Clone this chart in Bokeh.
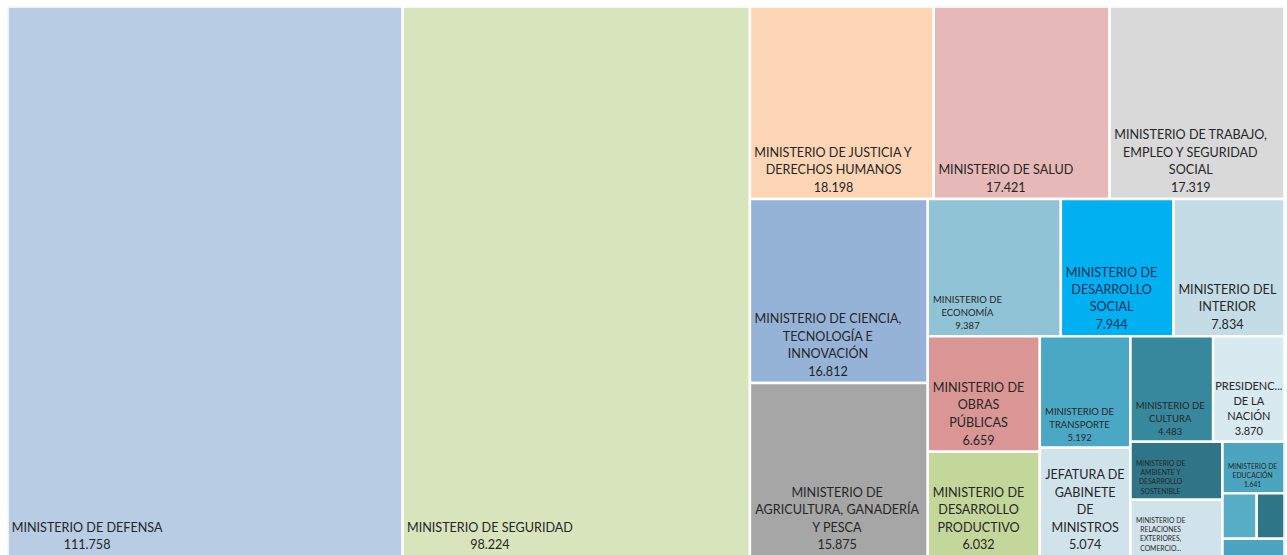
from bokeh.plotting import figure
from bokeh.models import ColumnDataSource, Range1d
from bokeh.core.properties import value
from bokeh.embed import file_html
from bokeh.resources import INLINE

# ---------------- data ----------------
organismos = [
    "MINISTERIO DE DEFENSA",
    "MINISTERIO DE SEGURIDAD",
    "MINISTERIO DE JUSTICIA Y DERECHOS HUMANOS",
    "MINISTERIO DE SALUD",
    "MINISTERIO DE TRABAJO, EMPLEO Y SEGURIDAD SOCIAL",
    "MINISTERIO DE CIENCIA, TECNOLOGÍA E INNOVACIÓN",
    "MINISTERIO DE AGRICULTURA, GANADERÍA Y PESCA",
    "MINISTERIO DE ECONOMÍA",
    "MINISTERIO DE DESARROLLO SOCIAL",
    "MINISTERIO DEL INTERIOR",
    "MINISTERIO DE OBRAS PÚBLICAS",
    "MINISTERIO DE DESARROLLO PRODUCTIVO",
    "MINISTERIO DE TRANSPORTE",
    "JEFATURA DE GABINETE DE MINISTROS",
    "MINISTERIO DE CULTURA",
    "PRESIDENCIA DE LA NACIÓN",
    "MINISTERIO DE AMBIENTE Y DESARROLLO SOSTENIBLE",
    "MINISTERIO DE RELACIONES EXTERIORES, COMERCIO INTERNACIONAL Y CULTO",
    "MINISTERIO DE EDUCACIÓN",
    "OTRO ORGANISMO 1",
    "OTRO ORGANISMO 2",
    "OTRO ORGANISMO 3",
]
montos = [111758, 98224, 18198, 17421, 17319, 16812, 15875, 9387, 7944, 7834,
          6659, 6032, 5192, 5074, 4483, 3870, 2740, 2690, 1641, 800, 650, 570]

# label lines as they appear in the chart
etiquetas = {
    organismos[0]: ["MINISTERIO DE DEFENSA"],
    organismos[1]: ["MINISTERIO DE SEGURIDAD"],
    organismos[2]: ["MINISTERIO DE JUSTICIA Y", "DERECHOS HUMANOS"],
    organismos[3]: ["MINISTERIO DE SALUD"],
    organismos[4]: ["MINISTERIO DE TRABAJO,", "EMPLEO Y SEGURIDAD", "SOCIAL"],
    organismos[5]: ["MINISTERIO DE CIENCIA,", "TECNOLOGÍA E", "INNOVACIÓN"],
    organismos[6]: ["MINISTERIO DE", "AGRICULTURA, GANADERÍA", "Y PESCA"],
    organismos[7]: ["MINISTERIO DE", "ECONOMÍA"],
    organismos[8]: ["MINISTERIO DE", "DESARROLLO", "SOCIAL"],
    organismos[9]: ["MINISTERIO DEL", "INTERIOR"],
    organismos[10]: ["MINISTERIO DE", "OBRAS", "PÚBLICAS"],
    organismos[11]: ["MINISTERIO DE", "DESARROLLO", "PRODUCTIVO"],
    organismos[12]: ["MINISTERIO DE", "TRANSPORTE"],
    organismos[13]: ["JEFATURA DE", "GABINETE", "DE", "MINISTROS"],
    organismos[14]: ["MINISTERIO DE", "CULTURA"],
    organismos[15]: ["PRESIDENC...", "DE LA", "NACIÓN"],
    organismos[16]: ["MINISTERIO DE", "AMBIENTE Y", "DESARROLLO", "SOSTENIBLE"],
    organismos[17]: ["MINISTERIO DE", "RELACIONES", "EXTERIORES,", "COMERCIO..."],
    organismos[18]: ["MINISTERIO DE", "EDUCACIÓN"],
}
sin_valor = {organismos[16], organismos[17]}

# ---------------- styles ----------------
colores = {
    organismos[0]: "#B8CCE4", organismos[1]: "#D8E4BC", organismos[2]: "#FCD5B4",
    organismos[3]: "#E6B8B7", organismos[4]: "#D9D9D9", organismos[5]: "#95B3D7",
    organismos[6]: "#A6A6A6", organismos[7]: "#90C3D5", organismos[8]: "#00B0F0",
    organismos[9]: "#C4DCE6", organismos[10]: "#DA9694", organismos[11]: "#C4D79B",
    organismos[12]: "#4BA8C4", organismos[13]: "#D0E3EB", organismos[14]: "#37879D",
    organismos[15]: "#D8E9EF", organismos[16]: "#2F7587", organismos[17]: "#D0E2EA",
    organismos[18]: "#4CA5BE", organismos[19]: "#57ADC6", organismos[20]: "#2E7587",
    organismos[21]: "#4BA5C0",
}
tam_fuente = {
    organismos[7]: 9.5, organismos[12]: 9.5, organismos[14]: 9.5,
    organismos[15]: 11, organismos[16]: 6.8, organismos[17]: 6.8, organismos[18]: 6.8,
}
color_texto = {organismos[8]: "#12305A"}
FUENTE_BASE = 12.6

W, H = 1277.0, 550.0          # treemap area (px)
FIG_W, FIG_H = 1287, 555
PAD = 6


def worst(row, side):
    s = sum(row)
    return max(max(side * side * r / (s * s), s * s / (side * side * r)) for r in row)


def squarify(areas, x, y, w, h):
    rects = []
    areas = list(areas)
    while areas:
        if len(areas) == 1:
            rects.append((x, y, w, h))
            break
        side = min(w, h)
        i = 1
        while i < len(areas) and worst(areas[:i + 1], side) <= worst(areas[:i], side):
            i += 1
        row, areas = areas[:i], areas[i:]
        s = sum(row)
        if w >= h:
            cw = s / h
            yy = y
            for r in row:
                rh = r / cw
                rects.append((x, yy, cw, rh))
                yy += rh
            x += cw
            w -= cw
        else:
            rh = s / w
            xx = x
            for r in row:
                rw = r / rh
                rects.append((xx, y, rw, rh))
                xx += rw
            y += rh
            h -= rh
    return rects


CW = {'A': .66, 'B': .64, 'C': .66, 'D': .73, 'E': .56, 'F': .54, 'G': .72, 'H': .75,
      'I': .28, 'J': .38, 'K': .64, 'L': .51, 'M': .88, 'N': .75, 'O': .79, 'P': .6,
      'Q': .79, 'R': .62, 'S': .52, 'T': .59, 'U': .72, 'V': .66, 'W': .99, 'X': .64,
      'Y': .61, 'Z': .6, 'Á': .66, 'É': .56, 'Í': .28, 'Ó': .79, 'Ú': .72, 'Ñ': .75,
      ' ': .26, '.': .23, ',': .23}


def est_w(txt, f):
    return sum(CW.get(c, .58) for c in txt) * f


def fmt(v):
    return f"{v:,}".replace(",", ".")


total = float(sum(montos))
areas = [v * W * H / total for v in montos]
rects = squarify(areas, 0.0, 0.0, W, H)

rs = dict(left=[], right=[], top=[], bottom=[], color=[])
ts = dict(x=[], y=[], text=[], fs=[], tc=[])
for name, v, (x, y, w, h) in zip(organismos, montos, rects):
    left, right, top, bottom = x, x + w, H - y, H - y - h
    rs["left"].append(left); rs["right"].append(right)
    rs["top"].append(top); rs["bottom"].append(bottom)
    rs["color"].append(colores[name])
    if name not in etiquetas:
        continue
    lines = list(etiquetas[name])
    if name not in sin_valor:
        lines.append(fmt(v))
    f = tam_fuente.get(name, FUENTE_BASE)
    n = len(lines)
    sp = 1.38 * f
    last_y = bottom + 5 + 0.56 * f
    bw = max(est_w(l, f) for l in lines)
    avail = w - 2 * PAD
    cx = left + PAD + bw / 2 if bw < avail else left + w / 2
    for i, line in enumerate(lines):
        ts["x"].append(cx)
        ts["y"].append(last_y + (n - 1 - i) * sp)
        ts["text"].append(line)
        ts["fs"].append(f"{f}px")
        ts["tc"].append(color_texto.get(name, "#262626"))

p = figure(width=FIG_W, height=FIG_H, output_backend="svg", toolbar_location=None,
           x_range=Range1d(0, W), y_range=Range1d(1, H),
           min_border_left=7, min_border_right=3, min_border_top=6, min_border_bottom=0)
p.axis.visible = False
p.grid.visible = False
p.outline_line_color = None
p.background_fill_color = "white"
p.border_fill_color = "white"

p.quad(left="left", right="right", top="top", bottom="bottom", fill_color="color",
       line_color="white", line_width=2.5, source=ColumnDataSource(rs))
p.text(x="x", y="y", text="text", text_font=value("Lato"), text_font_size="fs",
       text_color="tc", text_align="center", text_baseline="middle",
       source=ColumnDataSource(ts))

open("out.html", "w").write(file_html(p, INLINE))
